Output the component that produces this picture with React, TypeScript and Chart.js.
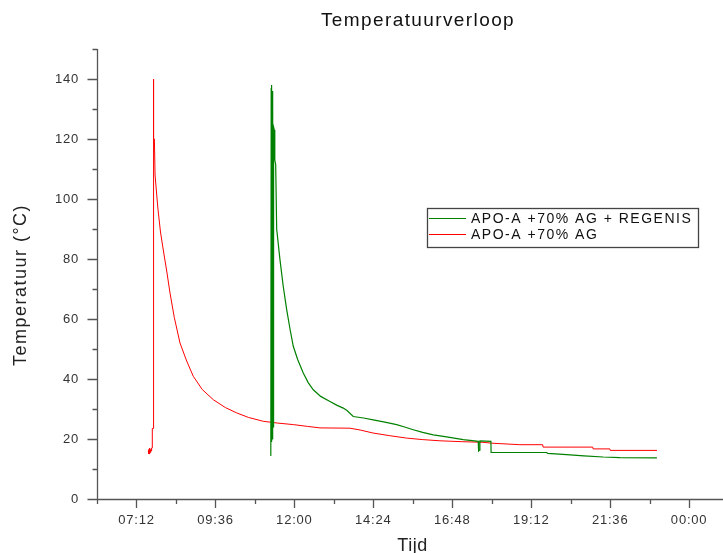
import React, { useEffect, useRef } from 'react';
import { Chart, registerables } from 'chart.js';

Chart.register(...registerables);

const chartTitle = 'Temperatuurverloop';
const xAxisTitle = 'Tijd';
const yAxisTitle = 'Temperatuur (°C)';
const seriesLabels = ['APO-A +70% AG + REGENIS', 'APO-A +70% AG'];
const seriesColors = ['rgb(0,128,0)', 'rgb(255,0,0)'];

// time in hours of the day
const greenTimes = [
  11.27, 11.28, 11.288, 11.295, 11.303, 11.312, 11.32, 11.33, 11.34, 11.35, 11.36, 11.368, 11.39, 11.405,
  11.432, 11.462, 11.562, 11.66, 11.766, 11.87, 11.967, 12.1, 12.27, 12.42, 12.575, 12.8, 13.082, 13.3,
  13.486, 13.6, 13.79, 14.1, 14.398, 14.75, 15.109, 15.35, 15.614, 15.9, 16.222, 16.629, 17.134, 17.59,
  17.6, 17.625, 17.64, 17.975, 17.98, 19.669, 19.7, 20.277, 20.8, 21.389, 21.9, 23.021,
];
const greenTemps = [
  14.5, 17, 20, 137, 19, 138, 20, 136, 21, 133, 24, 124, 123, 113,
  111.5, 90, 79.8, 71, 63.1, 56.5, 50.9, 46.5, 42, 38.8, 36.4, 34.2, 32.5, 31.2,
  30.3, 29.5, 27.5, 27, 26.4, 25.6, 24.8, 24, 23.1, 22.2, 21.4, 20.7, 19.8, 19.2,
  16, 16.3, 19.4, 19.2, 15.5, 15.5, 15.2, 14.8, 14.4, 14, 13.8, 13.7,
];

const redTimes = [
  7.559, 7.568, 7.578, 7.59, 7.6, 7.615, 7.63, 7.645, 7.66, 7.675, 7.681, 7.705, 7.711, 7.72, 7.728, 7.745,
  7.765, 7.85, 7.93, 8.015, 8.119, 8.219, 8.35, 8.523, 8.726, 8.927, 9.2, 9.535, 9.9, 10.246, 10.6, 11.055,
  11.5, 11.967, 12.4, 12.778, 13.69, 14.0, 14.389, 14.9, 15.413, 15.9, 16.426, 17.1, 17.733, 18.0, 18.857,
  19.55, 19.56, 21.07, 21.08, 21.59, 21.6, 23.022,
];
const redTemps = [
  16, 15, 16.5, 15, 17, 15.5, 16.5, 16, 17, 17, 23.5, 23.5, 140, 125, 120, 120,
  108, 97, 89, 83, 76, 68.7, 60.5, 52, 46, 40.9, 36.5, 33.1, 30.5, 28.7, 27.2, 25.9,
  25.3, 24.8, 24.2, 23.7, 23.6, 23, 22, 21.1, 20.3, 19.8, 19.4, 19.1, 18.9, 18.6, 18.1,
  18.1, 17.3, 17.3, 16.7, 16.7, 16.2, 16.2,
];

const xMin = 6;
const xMax = 25.03;
const yMin = 0;
const yMax = 150;
const xMajorTicks = [7.2, 9.6, 12, 14.4, 16.8, 19.2, 21.6, 24];
const xMinorTicks = [6, 8.4, 10.8, 13.2, 15.6, 18, 20.4, 22.8];
const yMajorTicks = [0, 20, 40, 60, 80, 100, 120, 140];
const yMinorTicks = [10, 30, 50, 70, 90, 110, 130, 150];

const FONT = '"Liberation Sans", Arial, Helvetica, sans-serif';
const AXIS_COLOR = '#555';

function fmtTime(h: number): string {
  const m = Math.round(h * 60);
  const hh = Math.floor(m / 60) % 24;
  const mm = m % 60;
  return `${String(hh).padStart(2, '0')}:${String(mm).padStart(2, '0')}`;
}
const isIn = (arr: number[], v: number) => arr.some((t) => Math.abs(t - v) < 1e-6);

const decorPlugin = {
  id: 'decor',
  beforeDraw(chart: any) {
    chart.ctx.letterSpacing = '0.8px';
  },
  afterDraw(chart: any) {
    const ctx = chart.ctx as CanvasRenderingContext2D;
    const xs = chart.scales.x;
    const ys = chart.scales.y;
    const a = chart.chartArea;
    ctx.save();
    // axis lines
    ctx.strokeStyle = AXIS_COLOR;
    ctx.lineWidth = 1.3;
    ctx.beginPath();
    ctx.moveTo(a.left + 0.5, a.top);
    ctx.lineTo(a.left + 0.5, a.bottom + 0.5);
    ctx.lineTo(a.right, a.bottom + 0.5);
    // tick marks
    xs.ticks.forEach((t: any) => {
      const px = Math.round(xs.getPixelForValue(t.value)) + 0.5;
      const len = isIn(xMajorTicks, t.value) ? 9 : 5;
      ctx.moveTo(px, a.bottom);
      ctx.lineTo(px, a.bottom + len);
    });
    ys.ticks.forEach((t: any) => {
      const py = Math.round(ys.getPixelForValue(t.value)) + 0.5;
      const len = isIn(yMajorTicks, t.value) ? 10 : 5;
      ctx.moveTo(a.left + 0.5, py);
      ctx.lineTo(a.left + 0.5 - len, py);
    });
    ctx.stroke();

    // title
    ctx.fillStyle = '#111';
    ctx.font = `19px ${FONT}`;
    ctx.letterSpacing = '1.4px';
    ctx.textAlign = 'center';
    ctx.textBaseline = 'alphabetic';
    ctx.fillText(chartTitle, 418, 25.5);

    // x title
    ctx.font = `18px ${FONT}`;
    ctx.letterSpacing = '0.5px';
    ctx.fillStyle = '#222';
    ctx.fillText(xAxisTitle, 412.5, 551);

    // y title
    ctx.save();
    ctx.translate(21, 285);
    ctx.rotate(-Math.PI / 2);
    ctx.letterSpacing = '1.5px';
    ctx.textBaseline = 'middle';
    ctx.fillText(yAxisTitle, 0, 0);
    ctx.restore();

    // legend
    const lx = 427, ly = 208, lw = 271, lh = 39;
    ctx.fillStyle = '#fff';
    ctx.fillRect(lx, ly, lw, lh);
    ctx.strokeStyle = '#444';
    ctx.lineWidth = 1.3;
    ctx.strokeRect(lx + 0.5, ly + 0.5, lw, lh);
    ctx.font = `14px ${FONT}`;
    ctx.letterSpacing = '1.5px';
    ctx.textAlign = 'left';
    ctx.textBaseline = 'middle';
    chart.data.datasets.forEach((ds: any, i: number) => {
      const y = 218.5 + i * 16;
      ctx.strokeStyle = ds.borderColor;
      ctx.lineWidth = 1;
      ctx.beginPath();
      ctx.moveTo(429, y);
      ctx.lineTo(466, y);
      ctx.stroke();
      ctx.fillStyle = '#111';
      ctx.fillText(ds.label, 471, y + 0.5);
    });
    ctx.restore();
  },
};

export default function App() {
  const ref = useRef<HTMLCanvasElement>(null);
  useEffect(() => {
    const chart = new Chart(ref.current as HTMLCanvasElement, {
      type: 'line',
      data: {
        datasets: [
          {
            label: seriesLabels[0],
            data: greenTimes.map((t, i) => ({ x: t, y: greenTemps[i] })),
            borderColor: seriesColors[0],
            borderWidth: 1.2,
            pointRadius: 0,
            tension: 0,
            fill: false,
          },
          {
            label: seriesLabels[1],
            data: redTimes.map((t, i) => ({ x: t, y: redTemps[i] })),
            borderColor: seriesColors[1],
            borderWidth: 1,
            pointRadius: 0,
            tension: 0,
            fill: false,
          },
        ],
      },
      options: {
        responsive: false,
        animation: false,
        devicePixelRatio: 1,
        layout: { padding: { top: 49, left: 0, right: 0, bottom: 0 } },
        plugins: {
          legend: { display: false },
          title: { display: false },
          tooltip: { enabled: false },
        },
        scales: {
          x: {
            type: 'linear',
            min: xMin,
            max: xMax,
            grid: { display: false, drawTicks: false },
            border: { display: false },
            afterBuildTicks: (scale: any) => {
              scale.ticks = [...xMinorTicks, ...xMajorTicks]
                .filter((v) => v >= xMin && v <= xMax)
                .sort((p, q) => p - q)
                .map((v) => ({ value: v }));
            },
            afterFit: (scale: any) => {
              scale.height = 54;
            },
            ticks: {
              autoSkip: false,
              maxRotation: 0,
              padding: 14,
              color: '#333',
              font: { family: FONT, size: 13 },
              callback: (v: any) => (isIn(xMajorTicks, Number(v)) ? fmtTime(Number(v)) : ''),
            },
          },
          y: {
            type: 'linear',
            min: yMin,
            max: yMax,
            grid: { display: false, drawTicks: false },
            border: { display: false },
            afterBuildTicks: (scale: any) => {
              scale.ticks = [...yMinorTicks, ...yMajorTicks]
                .sort((p, q) => p - q)
                .map((v) => ({ value: v }));
            },
            afterFit: (scale: any) => {
              scale.width = 97;
            },
            ticks: {
              autoSkip: false,
              padding: 18,
              color: '#333',
              font: { family: FONT, size: 13 },
              callback: (v: any) => (isIn(yMajorTicks, Number(v)) ? String(v) : ''),
            },
          },
        },
      },
      plugins: [decorPlugin],
    } as any);
    return () => chart.destroy();
  }, []);
  return (
    <div style={{ position: 'absolute', left: 0, top: 0, width: 723, height: 553, background: '#fff' }}>
      <canvas ref={ref} width={723} height={553} style={{ display: 'block' }} />
    </div>
  );
}
